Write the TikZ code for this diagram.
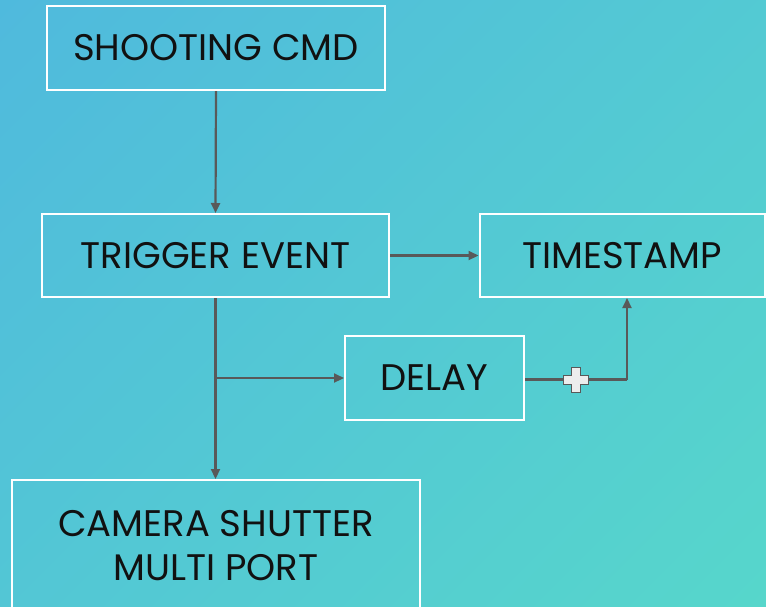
\documentclass[tikz,border=0pt]{standalone}
\usepackage{fontspec}
\setmainfont{Poppins}
\usetikzlibrary{arrows.meta}
\definecolor{bgA}{HTML}{4FB8DE}
\definecolor{bgB}{HTML}{57D8CA}
\definecolor{wire}{HTML}{595959}
\definecolor{txt}{HTML}{111111}
\definecolor{plusfill}{HTML}{EDEDED}
\tikzset{
  stepbox/.style={draw=white, line width=2pt, text=txt, inner sep=0pt,
    font=\fontsize{37}{44}\selectfont, align=center},
  link/.style={draw=wire, line width=2.2pt, -{Triangle[length=10pt,width=9pt]}},
  seg/.style={draw=wire, line width=2.2pt},
}
\begin{document}
\begin{tikzpicture}[x=1pt,y=-1pt]
  \useasboundingbox (0,0) rectangle (766,606);
  \clip (0,0) rectangle (766,606);
  % diagonal background gradient
  \shade[top color=bgA, bottom color=bgB, shading angle=45] (-200,-200) rectangle (966,806);

  % boxes
  \node[stepbox, minimum width=338pt, minimum height=84pt] (cmd) at (216,48) {SHOOTING CMD};
  \node[stepbox, minimum width=347pt, minimum height=83pt] (trig) at (215.5,255.5) {TRIGGER EVENT};
  \node[stepbox, minimum width=285pt, minimum height=83pt] (ts) at (622,255.5) {TIMESTAMP};
  \node[stepbox, minimum width=179pt, minimum height=84pt] (delay) at (434.5,378) {DELAY};
  \node[stepbox, minimum width=408pt, minimum height=132pt] (cam) at (216,546) {CAMERA SHUTTER\\MULTI PORT};

  % connectors
  \draw[link] (cmd.south) -- (trig.north);
  \draw[link] (trig.east) -- (ts.west);
  \draw[link] (trig.south) -- (cam.north -| trig.south);
  \coordinate (branch) at (trig.south |- delay.west);
  \draw[link] (branch) -- (delay.west);
  \coordinate (corner) at (627,379.5);
  \draw[seg] (delay.east |- corner) -- (corner);
  \draw[link] (corner) -- (corner |- ts.south);

  % summing mark on the delay line
  \filldraw[draw=wire, fill=plusfill, line width=1.8pt, line join=miter]
    (571.5,367.5) -- (580.5,367.5) -- (580.5,375.5) -- (588.5,375.5) -- (588.5,384.5)
    -- (580.5,384.5) -- (580.5,392.5) -- (571.5,392.5) -- (571.5,384.5) -- (563.5,384.5)
    -- (563.5,375.5) -- (571.5,375.5) -- cycle;
\end{tikzpicture}
\end{document}
